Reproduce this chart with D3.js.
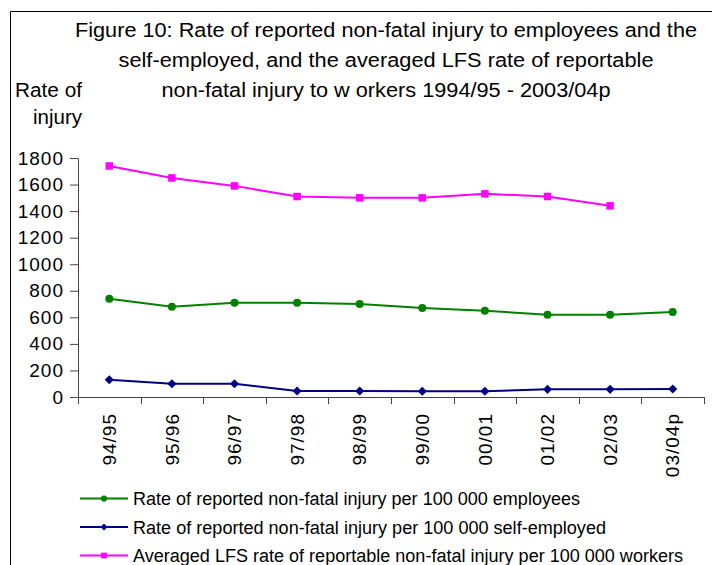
<!DOCTYPE html>
<html>
<head>
<meta charset="utf-8">
<script src="https://cdn.jsdelivr.net/npm/d3@7"></script>
<style>
  html, body { margin: 0; padding: 0; background: #fff; }
  svg { display: block; font-family: "Liberation Sans", Arial, sans-serif; }
</style>
</head>
<body>
<svg id="chart" width="712" height="565"></svg>
<script>
const categories = ["94/95","95/96","96/97","97/98","98/99","99/00","00/01","01/02","02/03","03/04p"];
const employees    = [740, 680, 710, 710, 700, 670, 650, 620, 620, 640];
const selfEmployed = [130, 100, 100, 45, 45, 43, 43, 58, 58, 60];
const lfsWorkers   = [1740, 1650, 1590, 1510, 1500, 1500, 1530, 1510, 1440, null];
const yTicks = [0, 200, 400, 600, 800, 1000, 1200, 1400, 1600, 1800];
const titleLines = [
  "Figure 10: Rate of reported non-fatal injury to employees and the",
  "self-employed, and the averaged LFS rate of reportable",
  "non-fatal injury to w orkers 1994/95 - 2003/04p"
];
const seriesNames = [
  "Rate of reported non-fatal injury per 100 000 employees",
  "Rate of reported non-fatal injury per 100 000 self-employed",
  "Averaged LFS rate of reportable non-fatal injury per 100 000 workers"
];

const svg = d3.select("#chart");

// frame
svg.append("path").attr("d", "M10.5,565 L10.5,11.5 L712,11.5")
  .attr("fill", "none").attr("stroke", "#000").attr("stroke-width", 1);

const x = d3.scaleBand().domain(categories).range([78, 704]).padding(0);
const y = d3.scaleLinear().domain([0, 1800]).range([397, 158]);
const cx = c => x(c) + x.bandwidth() / 2;

// title
const titleWidths = [622, 535, 449];
svg.append("g").selectAll("text").data(titleLines).join("text")
  .attr("x", 386).attr("y", (d, i) => 37 + i * 30)
  .attr("text-anchor", "middle").attr("font-size", 20)
  .attr("textLength", (d, i) => titleWidths[i]).attr("lengthAdjust", "spacingAndGlyphs")
  .text(d => d);

// y axis title
svg.append("text").attr("x", 82).attr("y", 97).attr("text-anchor", "end")
  .attr("font-size", 20).attr("textLength", 67).attr("lengthAdjust", "spacingAndGlyphs").text("Rate of");
svg.append("text").attr("x", 82).attr("y", 124).attr("text-anchor", "end")
  .attr("font-size", 20).attr("textLength", 49).attr("lengthAdjust", "spacingAndGlyphs").text("injury");

// y axis
const yAxis = svg.append("g").attr("transform", "translate(78,0)")
  .call(d3.axisLeft(y).tickValues(yTicks).tickSize(8).tickSizeOuter(0).tickPadding(6).tickFormat(d3.format("d")));
yAxis.select(".domain").attr("stroke", "#444");
yAxis.selectAll(".tick line").attr("stroke", "#444");
yAxis.selectAll(".tick text").attr("font-size", 19).attr("fill", "#000")
  .attr("font-family", "Liberation Sans, Arial, sans-serif").style("letter-spacing", "1px");

// x axis baseline + boundary ticks
const xg = svg.append("g");
xg.append("line").attr("x1", x.range()[0]).attr("x2", x.range()[1])
  .attr("y1", y(0) + 0.5).attr("y2", y(0) + 0.5).attr("stroke", "#444");
const bounds = categories.map(c => x(c)).concat([x.range()[1]]);
xg.selectAll("line.tk").data(bounds).join("line").attr("class", "tk")
  .attr("x1", d => Math.round(d) + 0.5).attr("x2", d => Math.round(d) + 0.5)
  .attr("y1", y(0)).attr("y2", y(0) + 7).attr("stroke", "#444");
xg.selectAll("text").data(categories).join("text")
  .attr("transform", d => `translate(${cx(d)},413) rotate(-90)`)
  .attr("dy", "0.35em").attr("text-anchor", "end").attr("font-size", 19)
  .style("letter-spacing", "1px").text(d => d);

// series
const series = [
  { name: seriesNames[0], values: employees, color: "#008000", symbol: d3.symbolCircle, size: 50, rot: 0 },
  { name: seriesNames[1], values: selfEmployed, color: "#000080", symbol: d3.symbolSquare, size: 42, rot: 45 },
  { name: seriesNames[2], values: lfsWorkers, color: "#FF00FF", symbol: d3.symbolSquare, size: 56, rot: 0 }
];

const line = d3.line().defined(d => d.v != null).x(d => cx(d.c)).y(d => y(d.v));
series.forEach(s => {
  const pts = categories.map((c, i) => ({ c, v: s.values[i] }));
  svg.append("path").datum(pts).attr("d", line)
    .attr("fill", "none").attr("stroke", s.color).attr("stroke-width", 2);
  svg.append("g").selectAll("path").data(pts.filter(p => p.v != null)).join("path")
    .attr("transform", p => `translate(${cx(p.c)},${y(p.v)}) rotate(${s.rot})`)
    .attr("d", d3.symbol().type(s.symbol).size(s.size))
    .attr("fill", s.color);
});

// legend
const legendY = [498.5, 527, 555.5];
const legendWidths = [447, 473, 550];
const lg = svg.append("g");
series.forEach((s, i) => {
  const ly = legendY[i];
  lg.append("line").attr("x1", 80).attr("x2", 128).attr("y1", ly).attr("y2", ly)
    .attr("stroke", s.color).attr("stroke-width", 2);
  lg.append("path").attr("transform", `translate(104,${ly}) rotate(${s.rot})`)
    .attr("d", d3.symbol().type(s.symbol).size(s.size * 0.6)).attr("fill", s.color);
  lg.append("text").attr("x", 133).attr("y", ly + 6.7).attr("font-size", 18)
    .attr("textLength", legendWidths[i]).attr("lengthAdjust", "spacingAndGlyphs")
    .text(s.name);
});
</script>
</body>
</html>
